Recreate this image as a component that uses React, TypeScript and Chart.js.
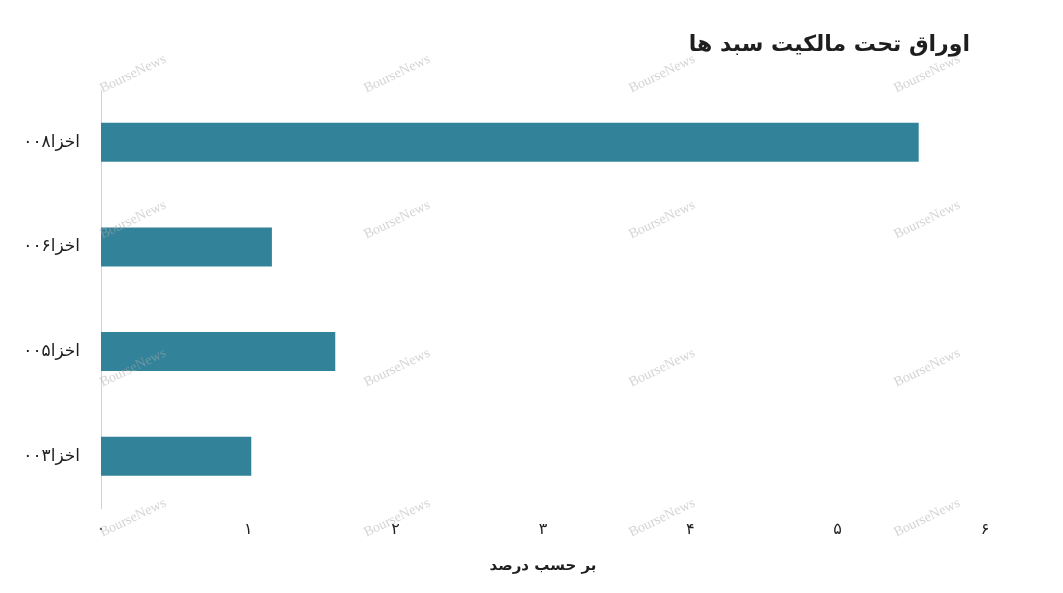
import React, { useEffect, useRef } from "react";
import { Chart, registerables } from "chart.js";

Chart.register(...registerables);

const categories = ["اخزا۰۰۸", "اخزا۰۰۶", "اخزا۰۰۵", "اخزا۰۰۳"];
const values = [5.55, 1.16, 1.59, 1.02];
const xMin = 0;
const xMax = 6;
const persianDigits = ["۰", "۱", "۲", "۳", "۴", "۵", "۶", "۷", "۸", "۹"];
const chartTitle = "اوراق تحت مالکیت سبد ها";
const xAxisTitle = "بر حسب درصد";
const watermarkText = "BourseNews";
const watermarkCols = [133, 397, 662, 927];
const watermarkRows = [74, 220, 368, 518];

const W = 1063;
const H = 593;

const toPersian = (v: number | string) =>
  String(v).replace(/[0-9]/g, (d) => persianDigits[Number(d)]);

const titlePlugin = {
  id: "rightTitle",
  afterDraw(chart: any) {
    const ctx = chart.ctx;
    ctx.save();
    ctx.font = "bold 22px 'DejaVu Sans', sans-serif";
    ctx.fillStyle = "#1e1e1e";
    ctx.textAlign = "right";
    ctx.textBaseline = "middle";
    ctx.fillText(chartTitle, 970, 45);
    ctx.restore();
  },
};

const watermarkPlugin = {
  id: "watermark",
  afterDatasetsDraw(chart: any) {
    const ctx = chart.ctx;
    ctx.save();
    ctx.font = "14px 'Liberation Serif', serif";
    ctx.fillStyle = "rgba(170,170,170,0.5)";
    ctx.textAlign = "center";
    ctx.textBaseline = "middle";
    for (const y of watermarkRows) {
      for (const x of watermarkCols) {
        ctx.save();
        ctx.translate(x, y);
        ctx.rotate(-0.45);
        ctx.fillText(watermarkText, 0, 0);
        ctx.restore();
      }
    }
    ctx.restore();
  },
};

export default function App() {
  const canvasRef = useRef<HTMLCanvasElement | null>(null);

  useEffect(() => {
    if (!canvasRef.current) return;
    const chart = new Chart(canvasRef.current, {
      type: "bar",
      data: {
        labels: categories,
        datasets: [
          {
            data: values,
            backgroundColor: "#32839A",
            borderWidth: 0,
            barPercentage: 0.373,
            categoryPercentage: 1,
          },
        ],
      },
      options: {
        indexAxis: "y",
        responsive: false,
        animation: false,
        layout: { padding: { top: 90, right: 78, bottom: 0, left: 0 } },
        plugins: {
          legend: { display: false },
          tooltip: { enabled: false },
          title: { display: false },
        },
        scales: {
          x: {
            min: xMin,
            max: xMax,
            grid: { display: false, drawTicks: false },
            border: { display: false },
            ticks: {
              stepSize: 1,
              padding: 12,
              color: "#222222",
              font: { size: 16, family: "'DejaVu Sans', sans-serif" },
              callback: (v: any) => toPersian(v),
            },
            title: {
              display: true,
              text: xAxisTitle,
              color: "#1e1e1e",
              font: { size: 15, weight: "bold", family: "'DejaVu Sans', sans-serif" },
              padding: { top: 0, bottom: 18 },
            },
            afterFit: (scale: any) => {
              scale.height = 84.5;
            },
          },
          y: {
            grid: { display: false, drawTicks: false },
            border: { display: true, color: "#d2d2d2", width: 1 },
            ticks: {
              padding: 21,
              color: "#1e1e1e",
              font: { size: 17, family: "'DejaVu Sans', sans-serif" },
            },
            afterFit: (scale: any) => {
              scale.width = 101;
            },
          },
        },
      } as any,
      plugins: [watermarkPlugin, titlePlugin],
    });
    return () => chart.destroy();
  }, []);

  return (
    <div style={{ position: "fixed", left: 0, top: 0, width: W, height: H, background: "#ffffff" }}>
      <canvas ref={canvasRef} width={W} height={H} style={{ width: W, height: H }} />
    </div>
  );
}
